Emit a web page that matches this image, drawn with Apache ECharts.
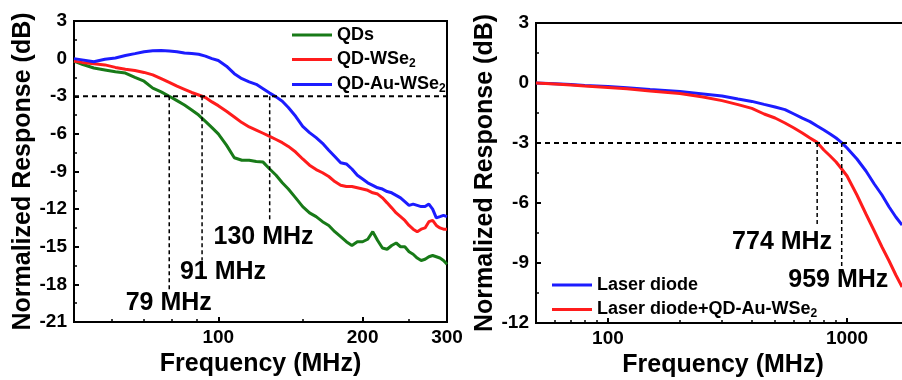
<!DOCTYPE html>
<html><head><meta charset="utf-8">
<script src="https://cdn.jsdelivr.net/npm/echarts@6/dist/echarts.min.js"></script>
<style>html,body{margin:0;padding:0;background:#fff}#c{width:902px;height:380px}</style>
</head><body><div id="c"></div>
<script>
// ---- Left panel data (frequency in MHz, response in dB)
const leftFreq = [50,52,55,58,61,64,67,70,73,76,79,82,85,88,91,94,97,
  100,104,108,112,116,120,124,128,132,136,140,
  145,150,155,160,165,170,175,180,185,190,195,200,205,210,215,220,225,230,235,240,245,250,255,260,265,270,275,280,285,290,295,300];
const qds = [-0.2,-0.45,-0.75,-0.9,-1.05,-1.15,-1.5,-1.8,-2.35,-2.65,-3.0,-3.35,-3.7,-4.1,-4.5,-5.0,-5.5,
  -6.0,-6.9,-7.9,-8.1,-8.1,-8.2,-8.25,-8.8,-9.3,-9.9,-10.4,
  -11.1,-11.8,-12.3,-12.6,-13.0,-13.3,-13.8,-14.2,-14.6,-14.9,-14.6,-14.6,-14.4,-13.8,-14.5,-15.1,-15.2,-14.9,-14.7,-15.0,-15.0,-15.4,-15.6,-15.9,-16.1,-16.0,-15.8,-15.7,-15.8,-15.9,-16.1,-16.4];
const qdWSe2 = [-0.2,-0.3,-0.4,-0.5,-0.7,-0.85,-0.95,-1.1,-1.3,-1.6,-1.9,-2.2,-2.45,-2.7,-2.9,-3.1,-3.45,
  -3.75,-4.2,-4.65,-5.1,-5.45,-5.7,-5.95,-6.2,-6.45,-6.7,-7.0,
  -7.45,-8.0,-8.5,-8.85,-9.1,-9.4,-9.8,-10.1,-10.2,-10.2,-10.3,-10.4,-10.5,-10.7,-10.8,-11.1,-11.5,-11.9,-12.3,-12.6,-12.9,-13.3,-13.6,-13.8,-13.6,-13.5,-13.0,-12.9,-13.3,-13.5,-13.6,-13.6];
const qdAuWSe2 = [0.0,-0.1,-0.25,-0.05,0.05,0.25,0.4,0.55,0.63,0.65,0.6,0.55,0.45,0.4,0.35,0.2,0.0,
  -0.15,-0.6,-1.2,-1.6,-1.85,-2.05,-2.4,-2.75,-3.05,-3.4,-3.9,
  -4.6,-5.4,-5.9,-6.3,-6.75,-7.3,-7.8,-8.3,-8.4,-8.8,-9.3,-9.6,-9.9,-10.1,-10.3,-10.4,-10.6,-10.7,-10.9,-11.1,-11.4,-11.7,-11.6,-11.7,-11.8,-11.8,-11.6,-12.0,-12.7,-12.6,-12.5,-12.6];
const leftXLabels = [100,200,300];
const leftXMinor = [60,70,80,90,150,250];
const leftYTicks = {min:-21, max:3, step:3};
const leftCutoffFreq = [79, 92.5, 128];
const leftCutoffEnd = [-18.4, -16.1, -12.9];
const leftCutoffText = ['79 MHz','91 MHz','130 MHz'];
const leftSeriesNames = ['QDs','QD-WSe2','QD-Au-WSe2'];

// ---- Right panel data
const rightFreq = [50,60,70,80,100,120,150,200,250,300,350,400,450,500,550,600,650,700,750,800,850,900,950,1000,1100,1200,1300,1400,1500,1600,1700];
const laserDiode = [0,-0.04,-0.08,-0.12,-0.17,-0.24,-0.33,-0.43,-0.55,-0.65,-0.8,-0.92,-1.07,-1.2,-1.33,-1.55,-1.76,-1.93,-2.15,-2.35,-2.55,-2.75,-2.98,-3.25,-3.8,-4.4,-5.05,-5.6,-6.2,-6.7,-7.1];
const laserDiodeQD = [0,-0.05,-0.1,-0.15,-0.22,-0.29,-0.4,-0.53,-0.7,-0.88,-1.08,-1.27,-1.55,-1.75,-2.0,-2.25,-2.5,-2.75,-2.97,-3.35,-3.65,-3.95,-4.3,-4.65,-5.6,-6.55,-7.4,-8.2,-8.9,-9.6,-10.2];
const rightXLabels = [100,1000];
const rightXMinor = [60,70,80,90,200,300,400,500,600,700,800,900,2000];
const rightYTicks = {min:-12, max:3, step:3};
const rightCutoffFreq = [750, 950];
const rightCutoffEnd = [-7.2, -9.25];
const rightCutoffText = ['774 MHz','959 MHz'];
const rightSeriesNames = ['Laser diode','Laser diode+QD-Au-WSe2'];

// ---- annotation text anchors (layout, in data coordinates)
const leftTextAnchor = [[78.8,-19.5],[102.3,-17.0],[124.3,-14.2]];
const rightTextAnchor = [[535,-7.95],[919,-9.85]];

const FONT = '"Liberation Sans", Arial, Helvetica, sans-serif';
const pairs = (xs, ys) => xs.map((x,i)=>[x, ys[i]]);

const chart = echarts.init(document.getElementById('c'), null, {renderer:'canvas'});

function yAxis(gi, t){
  return {type:'value', gridIndex:gi, min:t.min, max:t.max, interval:t.step,
    axisLine:{show:true, onZero:false, lineStyle:{color:'#000', width:2}},
    axisTick:{show:true, inside:true, length:5, lineStyle:{color:'#000', width:2}},
    minorTick:{show:true, splitNumber:2, length:3, lineStyle:{color:'#000', width:1.5}},
    splitLine:{show:false},
    axisLabel:{color:'#000', fontSize:19, fontWeight:'bold', fontFamily:FONT, margin:7},
    name:'Normalized Response (dB)', nameLocation:'middle', nameGap:38,
    nameTextStyle:{color:'#000', fontSize:25, fontWeight:'bold', fontFamily:FONT}};
}
function xAxis(gi, min, max, labels, padR){
  return {type:'log', logBase:10, gridIndex:gi, min:min, max:max,
    axisLine:{show:true, onZero:false, lineStyle:{color:'#000', width:2}},
    axisTick:{show:true, inside:true, length:5, customValues:labels, lineStyle:{color:'#000', width:2}},
    minorTick:{show:false},
    splitLine:{show:false},
    axisLabel:{color:'#000', fontSize:19, fontWeight:'bold', fontFamily:FONT, margin:6, customValues:labels,
      formatter: v => String(Math.round(v))},
    name:'Frequency (MHz)', nameLocation:'middle', nameGap:26,
    nameTextStyle:{color:'#000', fontSize:25, fontWeight:'bold', fontFamily:FONT, padding:[0,padR,0,0]}};
}
function minorXAxis(gi, min, max, ticks){
  return {type:'log', logBase:10, gridIndex:gi, min:min, max:max, position:'bottom',
    axisLine:{show:false, onZero:false}, axisLabel:{show:false}, splitLine:{show:false},
    axisTick:{show:true, inside:true, length:3, customValues:ticks, lineStyle:{color:'#000', width:1.5}}};
}
function hiddenY(gi, t){
  return {type:'value', gridIndex:gi, min:t.min, max:t.max, show:false};
}
function curve(name, xi, yi, xs, ys, color){
  return {type:'line', name:name, xAxisIndex:xi, yAxisIndex:yi, data:pairs(xs, ys),
    showSymbol:false, symbol:'none', smooth:false, animation:false,
    lineStyle:{color:color, width:3}, itemStyle:{color:color}};
}
function dashed(xi, yi, pts, w, dash){
  return {type:'line', xAxisIndex:xi, yAxisIndex:yi, data:pts, symbol:'none', silent:true, animation:false,
    lineStyle:{color:'#000', width:w, type:dash}, z:5};
}
function texts(xi, yi, anchors, labels){
  return {type:'scatter', xAxisIndex:xi, yAxisIndex:yi, symbolSize:0.1, silent:true, animation:false,
    itemStyle:{color:'#000', opacity:1},
    data: anchors.map((a,i)=>({value:a, name:labels[i]})),
    label:{show:true, position:'inside', formatter:'{b}', color:'#000', opacity:1,
      textBorderWidth:0, textShadowBlur:0,
      fontSize:25, fontWeight:'bold', fontFamily:FONT}, z:6};
}
const legendCommon = {orient:'vertical', itemWidth:40, itemHeight:3, itemGap:4.5, icon:'rect',
  textStyle:{color:'#000', fontSize:18, fontWeight:'bold', fontFamily:FONT, lineHeight:20,
    rich:{s:{fontSize:12, fontWeight:'bold', fontFamily:FONT, color:'#000', padding:[9,0,0,0]}}},
  formatter: n => n.replace(/WSe2$/, 'WSe{s|2}')};

const series = [];
series.push(dashed(0,0,[[50,-3],[300,-3]],2,[5,4]));
leftCutoffFreq.forEach((f,i)=>series.push(dashed(0,0,[[f,-3],[f,leftCutoffEnd[i]]],1.5,[4,3])));
series.push(curve(leftSeriesNames[0],0,0,leftFreq,qds,'#187a18'));
series.push(curve(leftSeriesNames[1],0,0,leftFreq,qdWSe2,'#ff1c1c'));
series.push(curve(leftSeriesNames[2],0,0,leftFreq,qdAuWSe2,'#1c1cff'));
series.push(texts(0,0,leftTextAnchor,leftCutoffText));

series.push(dashed(1,1,[[50,-3],[2000,-3]],2,[5,4]));
rightCutoffFreq.forEach((f,i)=>series.push(dashed(1,1,[[f,-3],[f,rightCutoffEnd[i]]],1.5,[4,3])));
series.push(curve(rightSeriesNames[0],1,1,rightFreq,laserDiode,'#1c1cff'));
series.push(curve(rightSeriesNames[1],1,1,rightFreq,laserDiodeQD,'#ff1c1c'));
series.push(texts(1,1,rightTextAnchor,rightCutoffText));

const G = {outerBoundsMode:'none', containLabel:false};
const option = {
  animation:false,
  backgroundColor:'#fff',
  grid:[
    Object.assign({left:74, top:21, width:373, height:301, show:true, borderColor:'#000', borderWidth:2, backgroundColor:'transparent'}, G),
    Object.assign({left:536, top:23, width:383, height:300, show:true, borderColor:'#000', borderWidth:2, backgroundColor:'transparent'}, G),
    Object.assign({left:74, top:21, width:373, height:301}, G),
    Object.assign({left:536, top:23, width:383, height:300}, G)
  ],
  xAxis:[ xAxis(0,50,300,leftXLabels,0), xAxis(1,50,2000,rightXLabels,9),
          minorXAxis(2,50,300,leftXMinor), minorXAxis(3,50,2000,rightXMinor) ],
  yAxis:[ yAxis(0,leftYTicks), yAxis(1,rightYTicks), hiddenY(2,leftYTicks), hiddenY(3,rightYTicks) ],
  legend:[
    Object.assign({}, legendCommon, {data:leftSeriesNames, left:287, top:20}),
    Object.assign({}, legendCommon, {data:rightSeriesNames, left:547, top:270})
  ],
  series:series
};
chart.setOption(option);
</script></body></html>
